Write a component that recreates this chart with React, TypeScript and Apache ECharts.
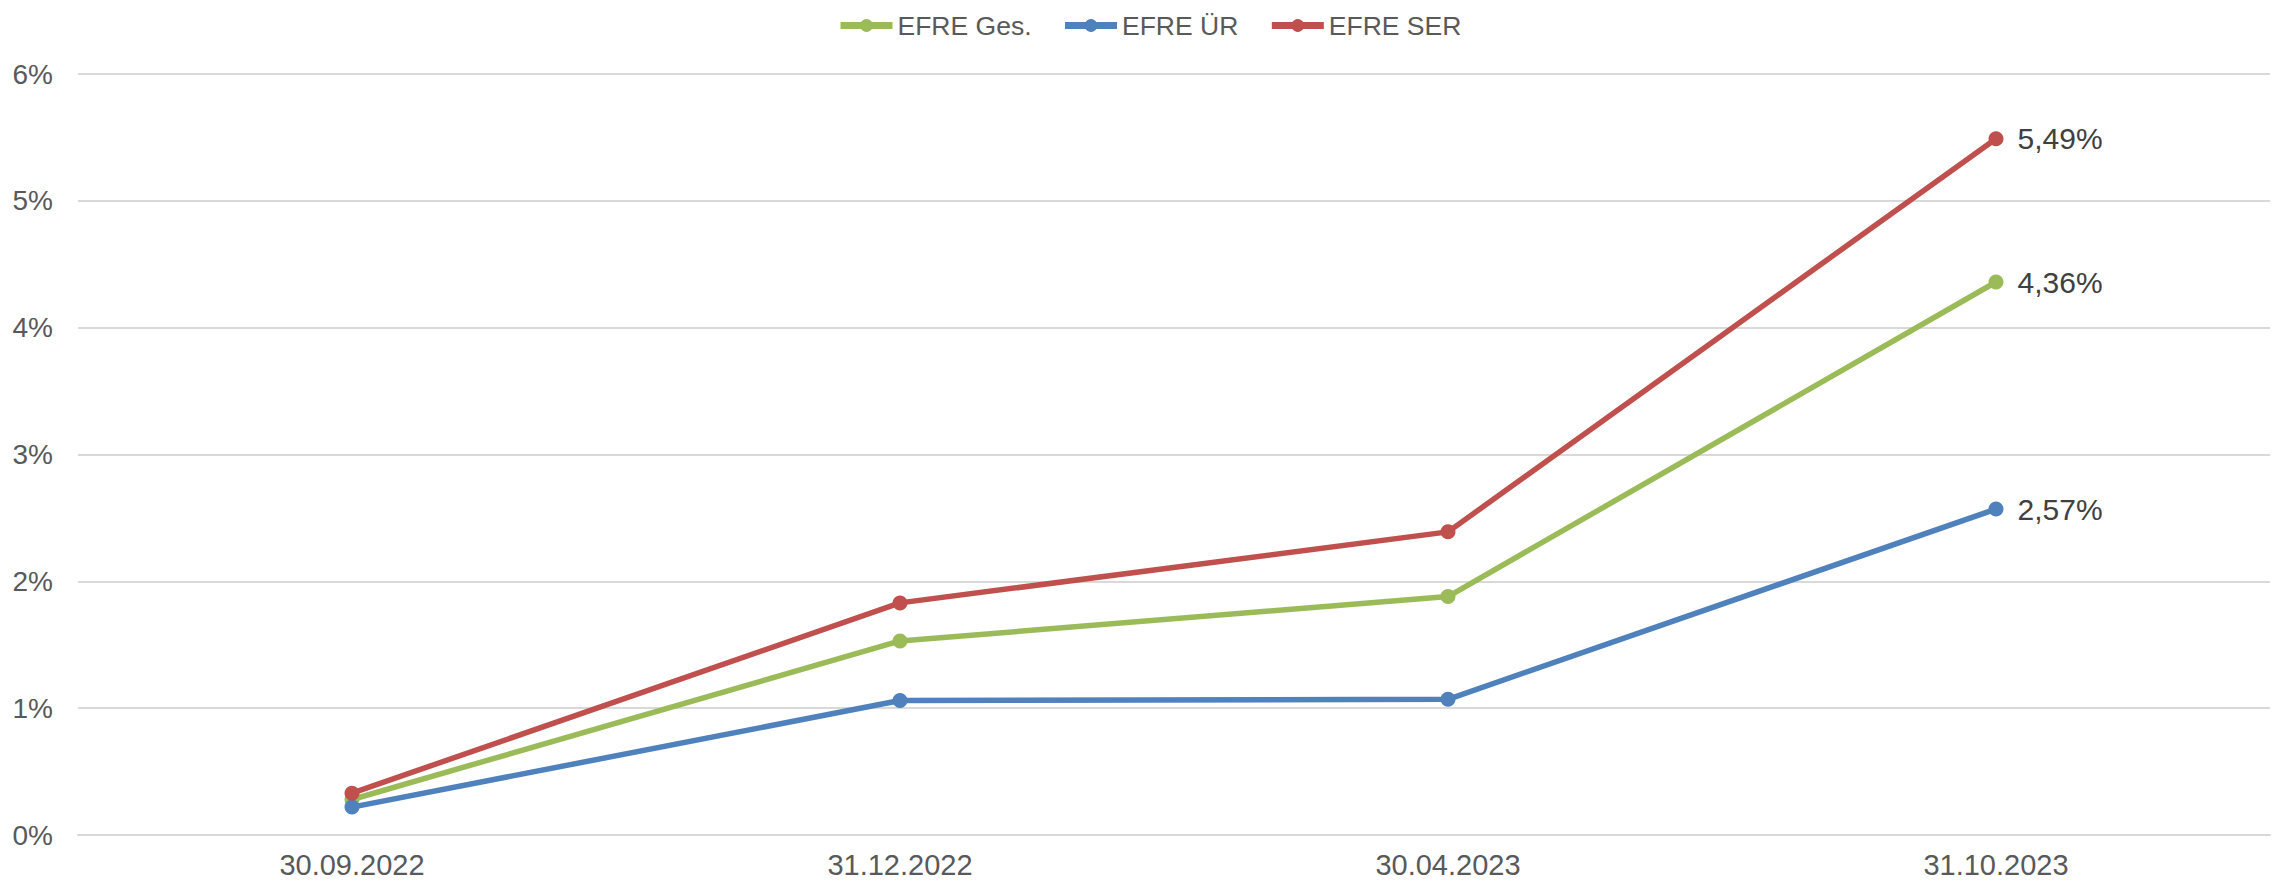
import React, { useEffect, useRef } from "react";
import * as echarts from "echarts";

const categories = ["30.09.2022", "31.12.2022", "30.04.2023", "31.10.2023"];
const seriesNames = ["EFRE Ges.", "EFRE ÜR", "EFRE SER"];
const efreGes = [0.28, 1.53, 1.88, 4.36];
const efreUR = [0.22, 1.06, 1.07, 2.57];
const efreSER = [0.33, 1.83, 2.39, 5.49];
const colors = ["#9BBB59", "#4F81BD", "#C0504D"];
const yTicks = [0, 1, 2, 3, 4, 5, 6];

const FONT = "'Liberation Sans', Arial, sans-serif";

export default function App() {
  const ref = useRef<HTMLDivElement>(null);
  useEffect(() => {
    if (!ref.current) return;
    const chart = echarts.init(ref.current, null, { renderer: "svg" });
    const values = [efreGes, efreUR, efreSER];
    const series = seriesNames.map((name, i) => ({
      name,
      type: "line",
      data: values[i].map((v, j) => ({
        value: v,
        label: {
          show: j === values[i].length - 1,
          position: "right",
          distance: 14,
          formatter: (p: any) => p.value.toFixed(2).replace(".", ",") + "%",
          color: "#404040",
          fontSize: 30,
          fontFamily: FONT,
        },
      })),
      symbol: "circle",
      symbolSize: 15,
      showSymbol: true,
      lineStyle: { width: 5.5, color: colors[i] },
      itemStyle: { color: colors[i] },
      z: i === 0 ? 2 : i === 1 ? 3 : 4,
    }));
    chart.setOption({
      animation: false,
      backgroundColor: "#ffffff",
      textStyle: { fontFamily: FONT },
      legend: {
        top: 7,
        left: 832,
        itemWidth: 52,
        itemHeight: 16,
        itemGap: 30,
        lineStyle: { width: 7 },
        textStyle: { fontSize: 26.5, color: "#595959", fontFamily: FONT },
        data: seriesNames,
      },
      grid: { left: 78, right: 5, top: 74, bottom: 50, containLabel: false },
      xAxis: {
        type: "category",
        data: categories,
        boundaryGap: true,
        axisLine: { show: true, lineStyle: { color: "#D9D9D9", width: 2 } },
        axisTick: { show: false },
        axisLabel: { fontSize: 29, color: "#595959", margin: 15, fontFamily: FONT },
      },
      yAxis: {
        type: "value",
        min: yTicks[0],
        max: yTicks[yTicks.length - 1],
        interval: 1,
        axisLine: { show: false },
        axisTick: { show: false },
        axisLabel: { fontSize: 28, color: "#595959", margin: 25, formatter: "{value}%", fontFamily: FONT },
        splitLine: { show: true, lineStyle: { color: "#D9D9D9", width: 2 } },
      },
      series,
    });
    return () => chart.dispose();
  }, []);
  return (
    <div
      ref={ref}
      style={{ position: "fixed", left: 0, top: 0, width: 2275, height: 885, background: "#fff" }}
    />
  );
}
